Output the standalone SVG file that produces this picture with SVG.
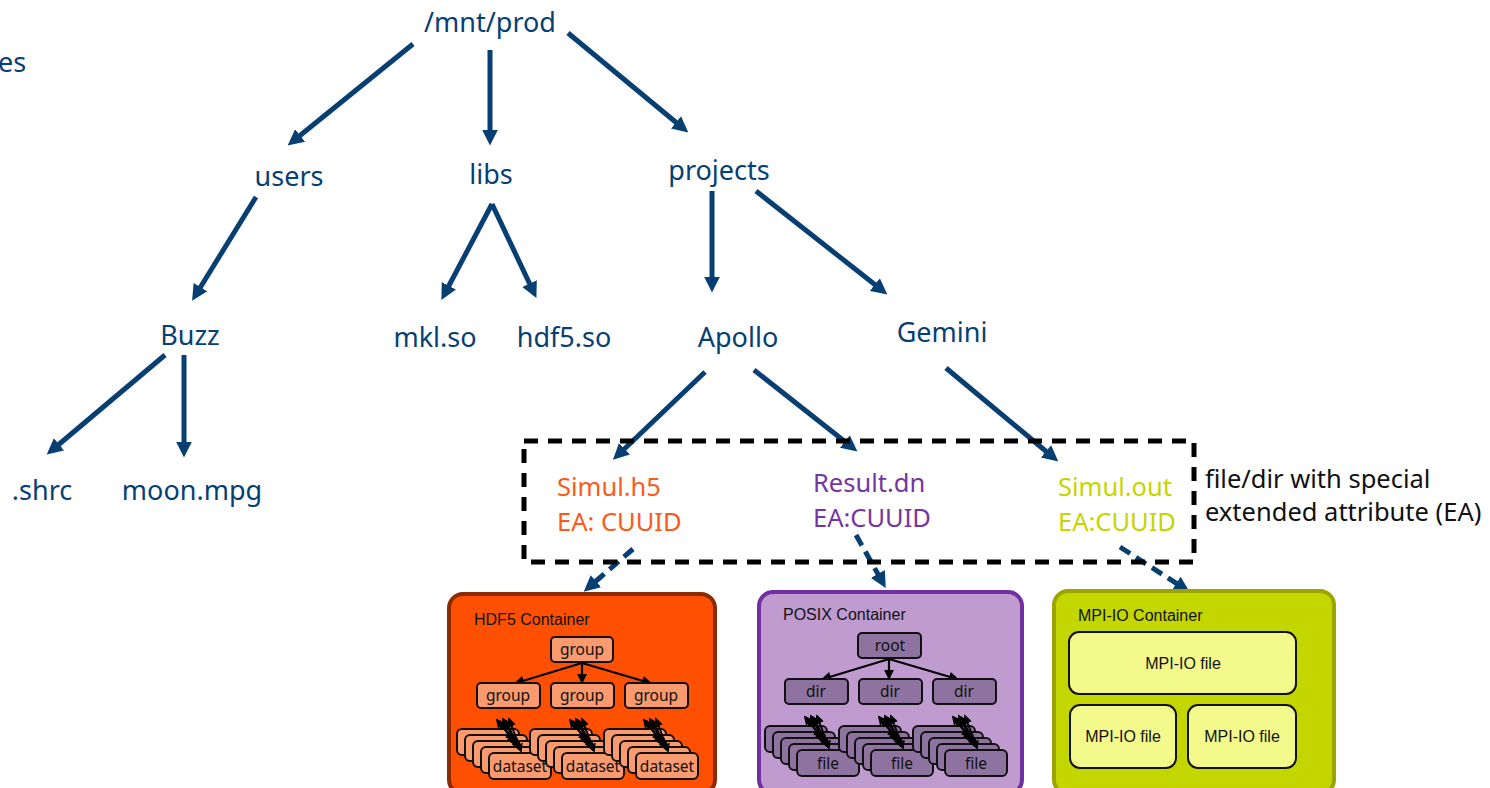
<svg xmlns="http://www.w3.org/2000/svg" width="1490" height="788" viewBox="0 0 1490 788">
  <defs>
    <style>
      .lbl { font-family: "Noto Sans", "Open Sans", sans-serif; font-size: 27px; fill: #073f73; }
      .ea { font-family: "Noto Sans", "Open Sans", sans-serif; font-size: 25.5px; }
      .note { font-family: "Noto Sans", "Open Sans", sans-serif; font-size: 25.5px; fill: #111; }
      .edge { stroke: #073f73; stroke-width: 5; fill: none; marker-end: url(#head); }
      .dash { stroke-dasharray: 12 7; }
      .ctitle { font-family: "Liberation Sans", Arial, sans-serif; font-size: 16px; fill: #111; }
      .in { font-family: "Noto Sans", "Open Sans", sans-serif; font-size: 15.5px; fill: #111; text-anchor: middle; }
      .box { stroke: #111; stroke-width: 2; }
      .thin { stroke: #000; stroke-width: 2.2; fill: none; marker-end: url(#small); }
      .both { stroke: #000; stroke-width: 2; fill: none; marker-start: url(#smallS); marker-end: url(#small); }
      .hdf { fill: #f99a6f; }
      .psx { fill: #8e73a0; }
    </style>
    <marker id="head" viewBox="0 0 10 10" refX="6.5" refY="5" markerWidth="3.2" markerHeight="3.4" orient="auto" markerUnits="strokeWidth">
      <path d="M0,0 L10,5 L0,10 z" fill="#073f73"/>
    </marker>
    <marker id="small" viewBox="0 0 10 10" refX="8" refY="5" markerWidth="5" markerHeight="4.5" orient="auto" markerUnits="strokeWidth">
      <path d="M0,0 L10,5 L0,10 z" fill="#000"/>
    </marker>
    <marker id="smallS" viewBox="0 0 10 10" refX="2" refY="5" markerWidth="5" markerHeight="4.5" orient="auto" markerUnits="strokeWidth">
      <path d="M10,0 L0,5 L10,10 z" fill="#000"/>
    </marker>
    <!-- bundle of two-way links between a group row box and its stacked children -->
    <g id="bundle">
      <line class="both" x1="40" y1="-9" x2="56" y2="11"/>
      <line class="both" x1="43" y1="-7" x2="58" y2="14"/>
      <line class="both" x1="46" y1="-10" x2="60" y2="17"/>
      <line class="both" x1="49" y1="-8" x2="62" y2="20"/>
      <line class="both" x1="52" y1="-10" x2="64" y2="22"/>
    </g>
  </defs>

  <!-- directory tree connectors -->
  <g id="connectors">
    <line class="edge" x1="413" y1="44" x2="292" y2="142"/>
    <line class="edge" x1="490" y1="50" x2="490" y2="140"/>
    <line class="edge" x1="568" y1="33" x2="684" y2="129"/>
    <line class="edge" x1="256" y1="197" x2="195" y2="296"/>
    <line class="edge" x1="492" y1="204" x2="444" y2="295"/>
    <line class="edge" x1="492" y1="204" x2="534" y2="293"/>
    <line class="edge" x1="712" y1="191" x2="712" y2="287"/>
    <line class="edge" x1="756" y1="191" x2="883" y2="291"/>
    <line class="edge" x1="165" y1="355" x2="51" y2="451"/>
    <line class="edge" x1="184" y1="355" x2="184" y2="452"/>
    <line class="edge" x1="705" y1="372" x2="617" y2="456"/>
    <line class="edge" x1="754" y1="370" x2="853" y2="448"/>
    <line class="edge" x1="946" y1="368" x2="1054" y2="458"/>
    <line class="edge dash" x1="633" y1="549" x2="588" y2="588"/>
    <line class="edge dash" x1="856" y1="535" x2="883" y2="583"/>
    <line class="edge dash" x1="1120" y1="547" x2="1185" y2="589"/>
  </g>

  <!-- tree labels -->
  <g id="n-partial"><text class="lbl" x="-2" y="72">es</text></g>
  <g id="n-root"><text class="lbl" x="490" y="32" text-anchor="middle">/mnt/prod</text></g>
  <g id="n-users"><text class="lbl" x="289" y="186" text-anchor="middle">users</text></g>
  <g id="n-libs"><text class="lbl" x="491" y="184" text-anchor="middle">libs</text></g>
  <g id="n-projects"><text class="lbl" x="719" y="180" text-anchor="middle">projects</text></g>
  <g id="n-buzz"><text class="lbl" x="190" y="345" text-anchor="middle">Buzz</text></g>
  <g id="n-mkl"><text class="lbl" x="435" y="347" text-anchor="middle">mkl.so</text></g>
  <g id="n-hdf5so"><text class="lbl" x="564" y="347" text-anchor="middle">hdf5.so</text></g>
  <g id="n-apollo"><text class="lbl" x="738" y="347" text-anchor="middle">Apollo</text></g>
  <g id="n-gemini"><text class="lbl" x="942" y="342" text-anchor="middle">Gemini</text></g>
  <g id="n-shrc"><text class="lbl" x="42" y="500" text-anchor="middle">.shrc</text></g>
  <g id="n-moon"><text class="lbl" x="192" y="500" text-anchor="middle">moon.mpg</text></g>

  <!-- files carrying the extended attribute -->
  <g id="ea-frame">
    <rect x="524" y="441" width="670" height="121" fill="none" stroke="#000" stroke-width="5" stroke-dasharray="14 10"/>
    <text class="note" x="1205" y="488">file/dir with special</text>
    <text class="note" x="1205" y="521">extended attribute (EA)</text>
  </g>
  <g id="n-simulh5" class="ea" fill="#fb5a1a">
    <text x="557" y="496">Simul.h5</text>
    <text x="557" y="531">EA: CUUID</text>
  </g>
  <g id="n-resultdn" class="ea" fill="#7535a2">
    <text x="813" y="492">Result.dn</text>
    <text x="813" y="527">EA:CUUID</text>
  </g>
  <g id="n-simulout" class="ea" fill="#c6d400">
    <text x="1058" y="496">Simul.out</text>
    <text x="1058" y="531">EA:CUUID</text>
  </g>

  <!-- HDF5 container -->
  <g id="c-hdf5">
    <rect x="449" y="594" width="266" height="200" rx="14" fill="#fe5000" stroke="#8c2a00" stroke-width="4"/>
    <text class="ctitle" x="474" y="625">HDF5 Container</text>
    <line class="thin" x1="582" y1="663" x2="516" y2="683"/>
    <line class="thin" x1="582" y1="663" x2="582" y2="682"/>
    <line class="thin" x1="582" y1="663" x2="650" y2="683"/>
    <rect class="box hdf" x="551" y="637" width="62" height="25" rx="4"/>
    <text class="in" x="582" y="655">group</text>
    <rect class="box hdf" x="477" y="683" width="63" height="25" rx="4"/>
    <text class="in" x="508" y="701">group</text>
    <rect class="box hdf" x="551" y="683" width="63" height="25" rx="4"/>
    <text class="in" x="582" y="701">group</text>
    <rect class="box hdf" x="625" y="683" width="63" height="25" rx="4"/>
    <text class="in" x="656" y="701">group</text>
    <g transform="translate(457,729)">
      <rect class="box hdf" x="0" y="0" width="62" height="26" rx="5"/>
      <rect class="box hdf" x="8" y="6" width="62" height="26" rx="5"/>
      <rect class="box hdf" x="16" y="12" width="62" height="26" rx="5"/>
      <rect class="box hdf" x="24" y="18" width="62" height="26" rx="5"/>
      <rect class="box hdf" x="32" y="24" width="62" height="26" rx="5"/>
      <text class="in" x="63" y="43">dataset</text>
      <use href="#bundle"/>
    </g>
    <g transform="translate(530,729)">
      <rect class="box hdf" x="0" y="0" width="62" height="26" rx="5"/>
      <rect class="box hdf" x="8" y="6" width="62" height="26" rx="5"/>
      <rect class="box hdf" x="16" y="12" width="62" height="26" rx="5"/>
      <rect class="box hdf" x="24" y="18" width="62" height="26" rx="5"/>
      <rect class="box hdf" x="32" y="24" width="62" height="26" rx="5"/>
      <text class="in" x="63" y="43">dataset</text>
      <use href="#bundle"/>
    </g>
    <g transform="translate(604,729)">
      <rect class="box hdf" x="0" y="0" width="62" height="26" rx="5"/>
      <rect class="box hdf" x="8" y="6" width="62" height="26" rx="5"/>
      <rect class="box hdf" x="16" y="12" width="62" height="26" rx="5"/>
      <rect class="box hdf" x="24" y="18" width="62" height="26" rx="5"/>
      <rect class="box hdf" x="32" y="24" width="62" height="26" rx="5"/>
      <text class="in" x="63" y="43">dataset</text>
      <use href="#bundle"/>
    </g>
  </g>

  <!-- POSIX container -->
  <g id="c-posix">
    <rect x="759" y="592" width="263" height="202" rx="14" fill="#c09bd0" stroke="#7030a0" stroke-width="4"/>
    <text class="ctitle" x="783" y="620">POSIX Container</text>
    <line class="thin" x1="889" y1="659" x2="823" y2="679"/>
    <line class="thin" x1="889" y1="659" x2="889" y2="678"/>
    <line class="thin" x1="889" y1="659" x2="957" y2="679"/>
    <rect class="box psx" x="858" y="633" width="63" height="25" rx="4"/>
    <text class="in" x="890" y="651">root</text>
    <rect class="box psx" x="785" y="679" width="63" height="25" rx="4"/>
    <text class="in" x="816" y="697">dir</text>
    <rect class="box psx" x="859" y="679" width="63" height="25" rx="4"/>
    <text class="in" x="890" y="697">dir</text>
    <rect class="box psx" x="933" y="679" width="63" height="25" rx="4"/>
    <text class="in" x="964" y="697">dir</text>
    <g transform="translate(765,726)">
      <rect class="box psx" x="0" y="0" width="62" height="26" rx="5"/>
      <rect class="box psx" x="8" y="6" width="62" height="26" rx="5"/>
      <rect class="box psx" x="16" y="12" width="62" height="26" rx="5"/>
      <rect class="box psx" x="24" y="18" width="62" height="26" rx="5"/>
      <rect class="box psx" x="32" y="24" width="62" height="26" rx="5"/>
      <text class="in" x="63" y="43">file</text>
      <use href="#bundle"/>
    </g>
    <g transform="translate(839,726)">
      <rect class="box psx" x="0" y="0" width="62" height="26" rx="5"/>
      <rect class="box psx" x="8" y="6" width="62" height="26" rx="5"/>
      <rect class="box psx" x="16" y="12" width="62" height="26" rx="5"/>
      <rect class="box psx" x="24" y="18" width="62" height="26" rx="5"/>
      <rect class="box psx" x="32" y="24" width="62" height="26" rx="5"/>
      <text class="in" x="63" y="43">file</text>
      <use href="#bundle"/>
    </g>
    <g transform="translate(913,726)">
      <rect class="box psx" x="0" y="0" width="62" height="26" rx="5"/>
      <rect class="box psx" x="8" y="6" width="62" height="26" rx="5"/>
      <rect class="box psx" x="16" y="12" width="62" height="26" rx="5"/>
      <rect class="box psx" x="24" y="18" width="62" height="26" rx="5"/>
      <rect class="box psx" x="32" y="24" width="62" height="26" rx="5"/>
      <text class="in" x="63" y="43">file</text>
      <use href="#bundle"/>
    </g>
  </g>

  <!-- MPI-IO container -->
  <g id="c-mpiio">
    <rect x="1054" y="591" width="280" height="203" rx="14" fill="#c4d600" stroke="#9da400" stroke-width="4"/>
    <text class="ctitle" x="1078" y="621">MPI-IO Container</text>
    <rect x="1069" y="632" width="227" height="62" rx="10" fill="#f3f98a" stroke="#111" stroke-width="2"/>
    <text class="ctitle" x="1183" y="669" text-anchor="middle">MPI-IO file</text>
    <rect x="1070" y="705" width="106" height="63" rx="10" fill="#f3f98a" stroke="#111" stroke-width="2"/>
    <text class="ctitle" x="1123" y="742" text-anchor="middle">MPI-IO file</text>
    <rect x="1188" y="705" width="108" height="63" rx="10" fill="#f3f98a" stroke="#111" stroke-width="2"/>
    <text class="ctitle" x="1242" y="742" text-anchor="middle">MPI-IO file</text>
  </g>
</svg>
